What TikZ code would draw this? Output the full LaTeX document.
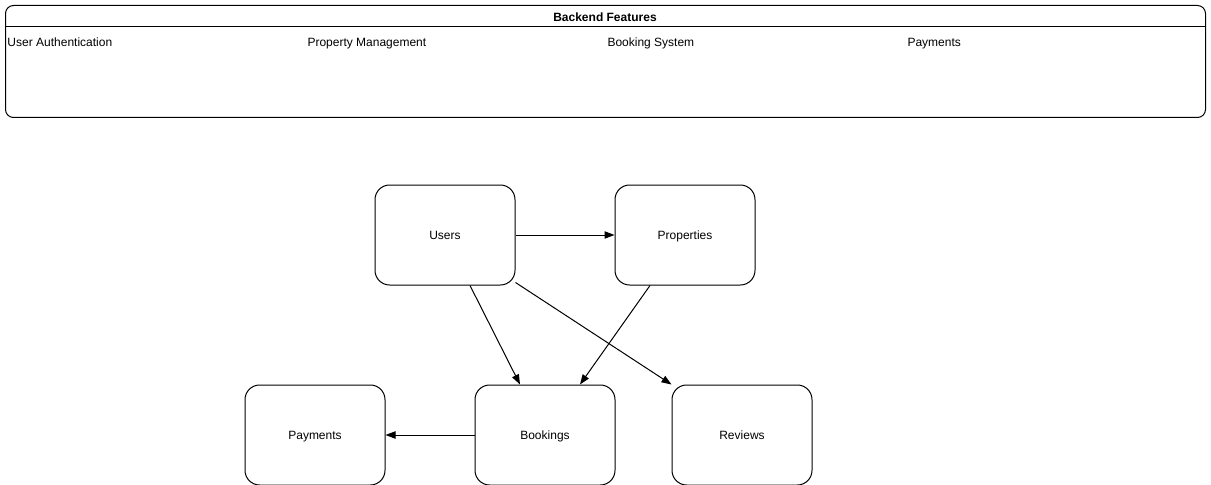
\documentclass[tikz,border=0pt]{standalone}
\usepackage{fontspec}
\setmainfont{Liberation Sans}
\usetikzlibrary{arrows.meta}
\begin{document}
\begin{tikzpicture}[x=.75pt, y=-.75pt, font=\fontsize{9}{11}\selectfont, line join=round, line width=.75pt, >={Triangle[length=7.5pt,width=5.5pt]},
		every node/.append style={text height=8pt, text depth=1.9pt},
		box/.style={draw, rounded corners=11pt, minimum width=105pt, minimum height=75pt, inner sep=0pt}]
		\useasboundingbox (0,0) rectangle (1211,485);
		% backend panel
		\node[draw, rounded corners=6pt, minimum width=900pt, minimum height=84pt, anchor=north west, inner sep=0pt] (backend) at (5,5) {};
		\draw (backend.west |- 0,27) -- (backend.east |- 0,27);
		\node[font=\fontsize{9}{11}\selectfont\bfseries] (title) at (605,17.5) {Backend Features};
		\foreach \i/\x/\t in {1/7/User Authentication, 2/307/Property Management, 3/607/Booking System, 4/907/Payments}
			\node[anchor=west, inner sep=0pt] (f\i) at (\x,42) {\t};
		% entities
		\node[box] (users) at (445,235) {Users};
		\node[box] (properties) at (685,235) {Properties};
		\node[box] (payments) at (315,435) {Payments};
		\node[box] (bookings) at (545,435) {Bookings};
		\node[box] (reviews) at (742,435) {Reviews};
		\draw[->] (users) -- (properties);
		\draw[->] ([xshift=18.75pt]users.south) -- ([xshift=-18.75pt]bookings.north);
		\draw[->] ([yshift=2.25pt]users.south east) -- (reviews.north west);
		\draw[->] ([xshift=-26.25pt]properties.south) -- ([xshift=26.25pt]bookings.north);
		\draw[->] (bookings) -- (payments);
	\end{tikzpicture}
\end{document}
